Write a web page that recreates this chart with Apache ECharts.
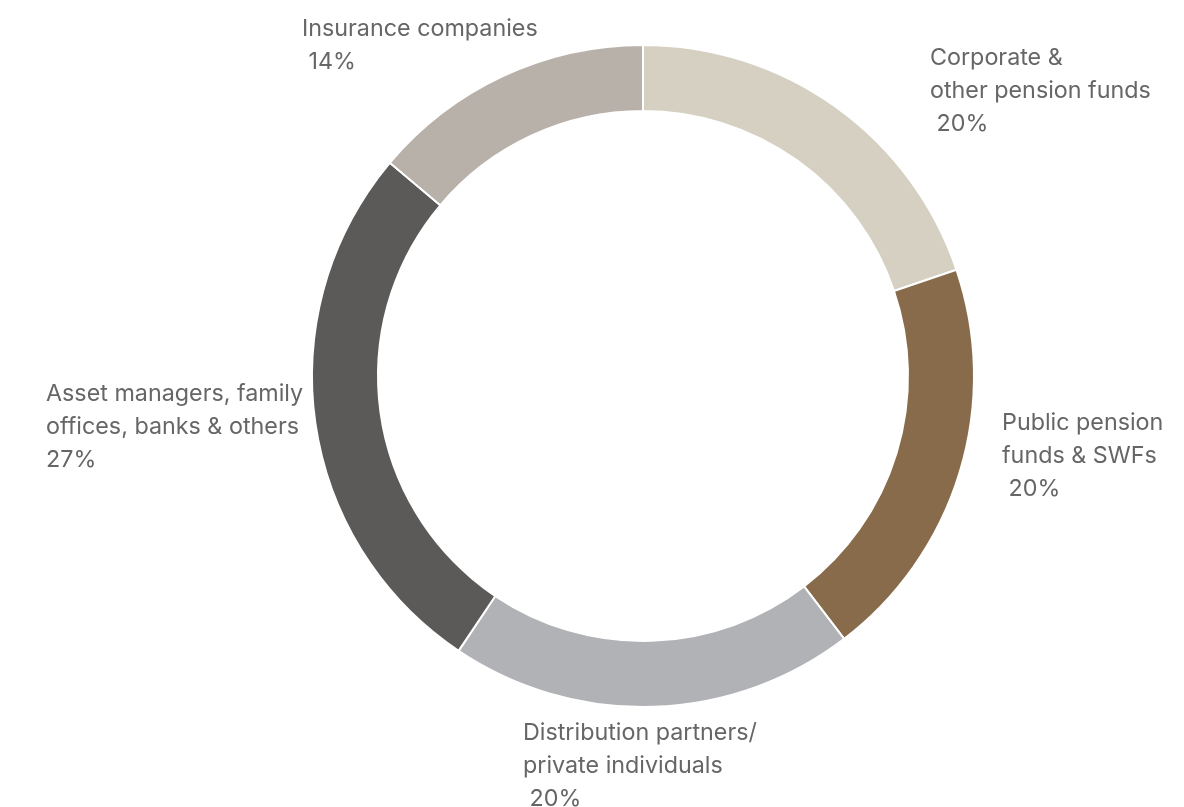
<!DOCTYPE html>
<html>
<head>
<meta charset="utf-8">
<script src="https://cdn.jsdelivr.net/npm/echarts@6/dist/echarts.min.js"></script>
<style>
  html, body { margin: 0; padding: 0; background: #fff; }
  #chart { width: 1184px; height: 807px; }
</style>
</head>
<body>
<div id="chart"></div>
<script>
// 投资者类别
var categories = [
  'Corporate &\nother pension funds',
  'Public pension\nfunds & SWFs',
  'Distribution partners/\nprivate individuals',
  'Asset managers, family\noffices, banks & others',
  'Insurance companies'
];
var values = [20, 20, 20, 27, 14];
var percentLabels = [' 20%', ' 20%', ' 20%', '27%', ' 14%'];
var colors = ['#d5d0c1', '#886b4b', '#b1b2b6', '#5b5a58', '#b8b1a9'];

// 标签左上角位置
var labelPos = [[930, 41], [1002, 406], [523, 716], [46, 377], [302, 12]];

var myChart = echarts.init(document.getElementById('chart'));

myChart.setOption({
  animation: false,
  series: [
    {
      type: 'pie',
      center: [643, 376],
      radius: [265, 331],
      startAngle: 90,
      clockwise: true,
      itemStyle: {
        borderColor: '#fff',
        borderWidth: 2
      },
      label: {
        show: true,
        position: 'outside',
        color: '#666',
        fontFamily: 'Inter',
        fontSize: 23.3,
        lineHeight: 33,
        align: 'left',
        overflow: 'none',
        formatter: function (p) {
          return categories[p.dataIndex] + '\n' + percentLabels[p.dataIndex];
        }
      },
      labelLine: { show: false },
      labelLayout: function (params) {
        var pos = labelPos[params.dataIndex];
        return {
          x: pos[0],
          y: pos[1],
          align: 'left',
          verticalAlign: 'top',
          hideOverlap: false
        };
      },
      emphasis: { disabled: true },
      data: values.map(function (v, i) {
        return { value: v, name: categories[i], itemStyle: { color: colors[i] } };
      })
    }
  ]
});
</script>
</body>
</html>
